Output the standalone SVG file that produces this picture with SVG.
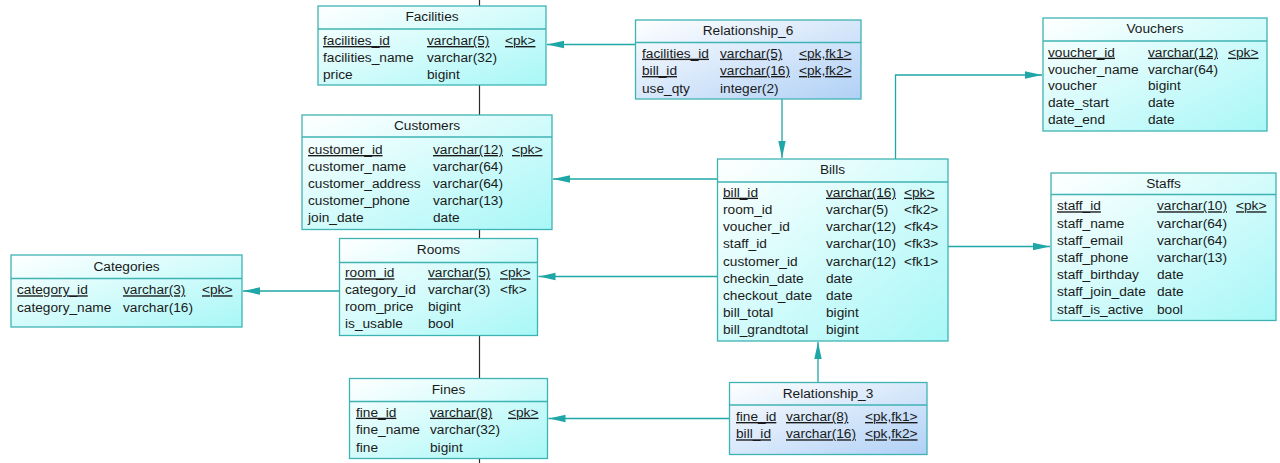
<svg xmlns="http://www.w3.org/2000/svg" width="1280" height="463" viewBox="0 0 1280 463">
<defs>
<linearGradient id="ge" x1="0" y1="0" x2="1" y2="1">
<stop offset="0" stop-color="#ffffff"/>
<stop offset="1" stop-color="#a8f7f7"/>
</linearGradient>
<linearGradient id="gr" x1="0" y1="0" x2="1" y2="1">
<stop offset="0" stop-color="#ffffff"/>
<stop offset="1" stop-color="#b0d0f6"/>
</linearGradient>
<marker id="arr" viewBox="0 0 17 9" refX="17" refY="4.5" markerWidth="17" markerHeight="9" markerUnits="userSpaceOnUse" orient="auto">
<path d="M0,0.8 L17,4.5 L0,8.2 Z" fill="#1fa6a6"/>
</marker>
<style>
.box{stroke:#3fb3b3;stroke-width:1.3}
.ent{fill:url(#ge)}
.rel{fill:url(#gr)}
.sep{stroke:#3fb3b3;stroke-width:1.3}
text{font-family:"Liberation Sans",Arial,sans-serif;font-size:13.7px;fill:#1a1a1a}
.h{text-anchor:middle}
.u{text-decoration:underline}
.c{fill:none;stroke:#1fa6a6;stroke-width:1.3}
.bl{stroke:#2b2b2b;stroke-width:1.2}
</style>
</defs>
<line class="bl" x1="479.5" y1="0" x2="479.5" y2="463"/>

<g id="connectors">
<line class="c" x1="635.5" y1="44.5" x2="547" y2="44.5" marker-end="url(#arr)"/>
<line class="c" x1="782" y1="99" x2="782" y2="158" marker-end="url(#arr)"/>
<line class="c" x1="717.5" y1="179" x2="553" y2="179" marker-end="url(#arr)"/>
<line class="c" x1="717.5" y1="276.5" x2="538.5" y2="276.5" marker-end="url(#arr)"/>
<line class="c" x1="339.5" y1="291" x2="243" y2="291" marker-end="url(#arr)"/>
<line class="c" x1="729.5" y1="418.5" x2="548.5" y2="418.5" marker-end="url(#arr)"/>
<line class="c" x1="818" y1="382.5" x2="818" y2="342" marker-end="url(#arr)"/>
<polyline class="c" points="895.5,159 895.5,75 1042,75" marker-end="url(#arr)"/>
<line class="c" x1="948" y1="246.5" x2="1050" y2="246.5" marker-end="url(#arr)"/>
</g>

<g id="facilities">
<rect class="box ent" x="318" y="6" width="228" height="79"/>
<line class="sep" x1="318" y1="29" x2="546" y2="29"/>
<text class="h" x="432" y="21">Facilities</text>
<text class="u" x="323" y="45">facilities_id</text><text class="u" x="427" y="45">varchar(5)</text><text class="u" x="505" y="45">&lt;pk&gt;</text>
<text x="323" y="62">facilities_name</text><text x="427" y="62">varchar(32)</text>
<text x="323" y="79">price</text><text x="427" y="79">bigint</text>
</g>

<g id="relationship_6">
<rect class="box rel" x="635.5" y="20" width="225.5" height="79"/>
<line class="sep" x1="635.5" y1="42.5" x2="861" y2="42.5"/>
<text class="h" x="748" y="35">Relationship_6</text>
<text class="u" x="642" y="57.7">facilities_id</text><text class="u" x="720" y="57.7">varchar(5)</text><text class="u" x="799" y="57.7">&lt;pk,fk1&gt;</text>
<text class="u" x="642" y="75">bill_id</text><text class="u" x="720" y="75">varchar(16)</text><text class="u" x="799" y="75">&lt;pk,fk2&gt;</text>
<text x="642" y="92.5">use_qty</text><text x="720" y="92.5">integer(2)</text>
</g>

<g id="vouchers">
<rect class="box ent" x="1043" y="18" width="224" height="113"/>
<line class="sep" x1="1043" y1="41" x2="1267" y2="41"/>
<text class="h" x="1155" y="33">Vouchers</text>
<text class="u" x="1048" y="56.7">voucher_id</text><text class="u" x="1148" y="56.7">varchar(12)</text><text class="u" x="1228" y="56.7">&lt;pk&gt;</text>
<text x="1048" y="73.5">voucher_name</text><text x="1148" y="73.5">varchar(64)</text>
<text x="1048" y="90.3">voucher</text><text x="1148" y="90.3">bigint</text>
<text x="1048" y="107.1">date_start</text><text x="1148" y="107.1">date</text>
<text x="1048" y="124">date_end</text><text x="1148" y="124">date</text>
</g>

<g id="customers">
<rect class="box ent" x="302" y="115" width="250" height="114.5"/>
<line class="sep" x1="302" y1="137" x2="552" y2="137"/>
<text class="h" x="427" y="130">Customers</text>
<text class="u" x="308" y="154">customer_id</text><text class="u" x="433" y="154">varchar(12)</text><text class="u" x="512" y="154">&lt;pk&gt;</text>
<text x="308" y="171">customer_name</text><text x="433" y="171">varchar(64)</text>
<text x="308" y="188">customer_address</text><text x="433" y="188">varchar(64)</text>
<text x="308" y="205">customer_phone</text><text x="433" y="205">varchar(13)</text>
<text x="308" y="222">join_date</text><text x="433" y="222">date</text>
</g>

<g id="bills">
<rect class="box ent" x="717.5" y="159" width="230.5" height="182"/>
<line class="sep" x1="717.5" y1="182" x2="948" y2="182"/>
<text class="h" x="832.5" y="174">Bills</text>
<text class="u" x="723" y="196.7">bill_id</text><text class="u" x="826" y="196.7">varchar(16)</text><text class="u" x="904" y="196.7">&lt;pk&gt;</text>
<text x="723" y="213.9">room_id</text><text x="826" y="213.9">varchar(5)</text><text x="904" y="213.9">&lt;fk2&gt;</text>
<text x="723" y="231.1">voucher_id</text><text x="826" y="231.1">varchar(12)</text><text x="904" y="231.1">&lt;fk4&gt;</text>
<text x="723" y="248.3">staff_id</text><text x="826" y="248.3">varchar(10)</text><text x="904" y="248.3">&lt;fk3&gt;</text>
<text x="723" y="265.5">customer_id</text><text x="826" y="265.5">varchar(12)</text><text x="904" y="265.5">&lt;fk1&gt;</text>
<text x="723" y="282.7">checkin_date</text><text x="826" y="282.7">date</text>
<text x="723" y="299.9">checkout_date</text><text x="826" y="299.9">date</text>
<text x="723" y="317.1">bill_total</text><text x="826" y="317.1">bigint</text>
<text x="723" y="334.3">bill_grandtotal</text><text x="826" y="334.3">bigint</text>
</g>

<g id="staffs">
<rect class="box ent" x="1051" y="173" width="225" height="147.5"/>
<line class="sep" x1="1051" y1="194.5" x2="1276" y2="194.5"/>
<text class="h" x="1163.5" y="188">Staffs</text>
<text class="u" x="1057" y="210.3">staff_id</text><text class="u" x="1157" y="210.3">varchar(10)</text><text class="u" x="1236" y="210.3">&lt;pk&gt;</text>
<text x="1057" y="227.5">staff_name</text><text x="1157" y="227.5">varchar(64)</text>
<text x="1057" y="244.7">staff_email</text><text x="1157" y="244.7">varchar(64)</text>
<text x="1057" y="261.9">staff_phone</text><text x="1157" y="261.9">varchar(13)</text>
<text x="1057" y="279.1">staff_birthday</text><text x="1157" y="279.1">date</text>
<text x="1057" y="296.3">staff_join_date</text><text x="1157" y="296.3">date</text>
<text x="1057" y="313.5">staff_is_active</text><text x="1157" y="313.5">bool</text>
</g>

<g id="categories">
<rect class="box ent" x="11" y="255" width="231" height="72"/>
<line class="sep" x1="11" y1="278.5" x2="242" y2="278.5"/>
<text class="h" x="126.5" y="271">Categories</text>
<text class="u" x="17" y="294.3">category_id</text><text class="u" x="123" y="294.3">varchar(3)</text><text class="u" x="202" y="294.3">&lt;pk&gt;</text>
<text x="17" y="311.5">category_name</text><text x="123" y="311.5">varchar(16)</text>
</g>

<g id="rooms">
<rect class="box ent" x="339.5" y="238.5" width="198" height="97"/>
<line class="sep" x1="339.5" y1="262.5" x2="537.5" y2="262.5"/>
<text class="h" x="438.5" y="254">Rooms</text>
<text class="u" x="345" y="277.3">room_id</text><text class="u" x="428" y="277.3">varchar(5)</text><text class="u" x="500" y="277.3">&lt;pk&gt;</text>
<text x="345" y="294.3">category_id</text><text x="428" y="294.3">varchar(3)</text><text x="500" y="294.3">&lt;fk&gt;</text>
<text x="345" y="311.3">room_price</text><text x="428" y="311.3">bigint</text>
<text x="345" y="328.3">is_usable</text><text x="428" y="328.3">bool</text>
</g>

<g id="fines">
<rect class="box ent" x="349.5" y="378.5" width="198" height="80"/>
<line class="sep" x1="349.5" y1="401.5" x2="547.5" y2="401.5"/>
<text class="h" x="448.5" y="394">Fines</text>
<text class="u" x="356" y="416.7">fine_id</text><text class="u" x="430" y="416.7">varchar(8)</text><text class="u" x="508" y="416.7">&lt;pk&gt;</text>
<text x="356" y="434.2">fine_name</text><text x="430" y="434.2">varchar(32)</text>
<text x="356" y="451.7">fine</text><text x="430" y="451.7">bigint</text>
</g>

<g id="relationship_3">
<rect class="box rel" x="729.5" y="382.5" width="197.5" height="72"/>
<line class="sep" x1="729.5" y1="405" x2="927" y2="405"/>
<text class="h" x="828" y="397.5">Relationship_3</text>
<text class="u" x="736" y="421">fine_id</text><text class="u" x="786" y="421">varchar(8)</text><text class="u" x="865" y="421">&lt;pk,fk1&gt;</text>
<text class="u" x="736" y="438.3">bill_id</text><text class="u" x="786" y="438.3">varchar(16)</text><text class="u" x="865" y="438.3">&lt;pk,fk2&gt;</text>
</g>
</svg>
